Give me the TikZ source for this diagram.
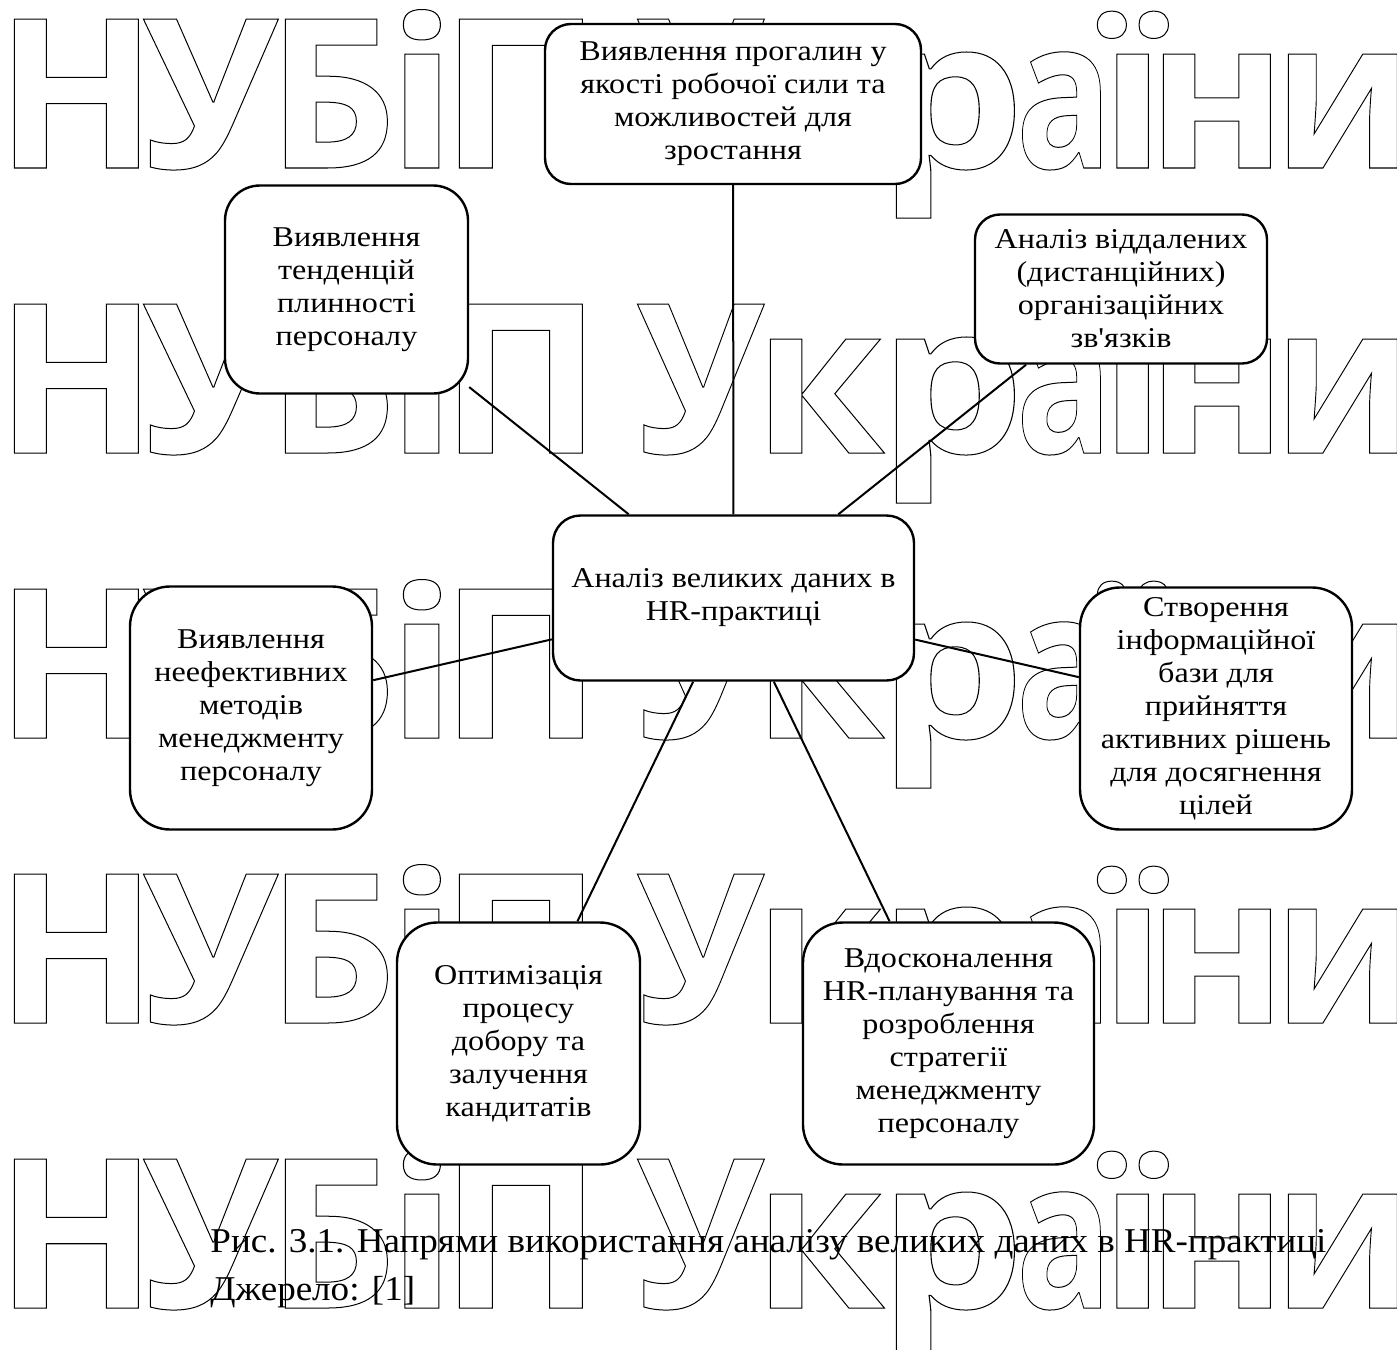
\documentclass[tikz,border=0pt]{standalone}
\usepackage{fontspec}
\usepackage{graphicx}
\setmainfont{Liberation Serif}
\newfontfamily\wmfont{Open Sans}
\newfontfamily\boxfam{Liberation Serif}[FakeStretch=1.12]
\newfontfamily\capfam{Liberation Serif}[FakeStretch=1.065]
\newcommand\outlinetext[1]{\special{pdf:literal direct 1 Tr 0.5 w}#1\special{pdf:literal direct 0 Tr}}
\newcommand\boxfont{\boxfam\fontsize{14.35pt}{16.5pt}\selectfont}
\newcommand\capfont{\capfam\fontsize{17.4pt}{20pt}\selectfont}
\newcommand\wmsize{\wmfont\bfseries\fontsize{104.3pt}{104.3pt}\selectfont}
\newdimen\wmA \newdimen\wmL \newdimen\wmR
\newcount\wmG
\tikzset{
  bx/.style={draw, line width=1.2pt, fill=white, rounded corners=#1, align=center, inner sep=0pt, font=\boxfont},
  bx/.default=20pt,
  link/.style={draw, line width=1pt},
  wm/.style={anchor=base west, inner sep=0pt, font=\wmsize},
  captxt/.style={anchor=base west, inner sep=0pt, font=\capfont}
}
% glyph #1 scaled horizontally so that its ink is #2 px wide, ink starting at the box origin
\newcommand\wmglyphbox[2]{%
  \setbox0=\hbox{#1}\wmA=\wd0
  \wmG=\XeTeXcharglyph`#1\relax
  \wmL=\XeTeXglyphbounds1 \wmG
  \wmR=\XeTeXglyphbounds3 \wmG
  \pgfmathsetmacro\wmS{(#2)*0.5/(\wmA-\wmL-\wmR)}%
  \hspace*{-\wmS\wmL}\scalebox{\wmS}[1]{\outlinetext{#1}}}
\begin{document}
\begin{tikzpicture}[x=0.5pt,y=-0.5pt]
\useasboundingbox (0,0) rectangle (1397,1349);
% watermark "НУБіП України", five rows
\foreach \yy/\rr in {168/a,453/b,738/c,1023/d,1308/e}{
  \foreach \ch/\lft/\rgt/\k in {Н/14/138/1,У/143/278/2,Б/285/387/3,і/403/440/4,П/459/582/5,У/637/764/6,к/770/884/7,р/896/1014/8,а/1022/1100/9,ї/1097/1168/10,н/1163/1270/11,и/1288/1397/12}{
    \node[wm] (wm\rr\k) at (\lft,\yy) {\expandafter\wmglyphbox\expandafter{\ch}{\rgt-\lft}};
  }
}
% boxes
\node[bx=13pt, minimum width=188pt, minimum height=80pt] (gap) at (733,104)
  {Виявлення прогалин у\\якості робочої сили та\\можливостей для\\зростання};
\node[bx=17.5pt, minimum width=121.5pt, minimum height=104pt] (turn) at (346.5,289.5)
  {Виявлення\\тенденцій\\плинності\\персоналу};
\node[bx=12.5pt, minimum width=146pt, minimum height=74.5pt] (remote) at (1121,289)
  {Аналіз віддалених\\(дистанційних)\\організаційних\\зв\char"27 язків};
\node[bx=13.75pt, minimum width=180.5pt, minimum height=82.5pt] (hub) at (733.5,598)
  {Аналіз великих даних в\\HR-практиці};
\node[bx=20pt, minimum width=121pt, minimum height=121.5pt] (ineff) at (251,708)
  {Виявлення\\неефективних\\методів\\менеджменту\\персоналу};
\node[bx=20pt, minimum width=136pt, minimum height=121pt] (base) at (1216,708.5)
  {Створення\\інформаційної\\бази для\\прийняття\\активних рішень\\для досягнення\\цілей};
\node[bx=20pt, minimum width=121.5pt, minimum height=121pt] (recruit) at (518.5,1043.5)
  {Оптимізація\\процесу\\добору та\\залучення\\кандитатів};
\node[bx=20pt, minimum width=145.5pt, minimum height=121pt] (plan) at (948.5,1043.5)
  {Вдосконалення\\HR-планування та\\розроблення\\стратегії\\менеджменту\\персоналу};
% connectors
\foreach \t in {gap,turn,remote,ineff,base,recruit,plan}{
  \path[link] (hub) -- (\t);
}
% caption
\node[captxt] (cap1) at (210,1252) {Рис. 3.1. Напрями використання аналізу великих даних в HR-практиці};
\node[captxt] (cap2) at (210,1300) {Джерело: [1]};
\end{tikzpicture}
\end{document}
